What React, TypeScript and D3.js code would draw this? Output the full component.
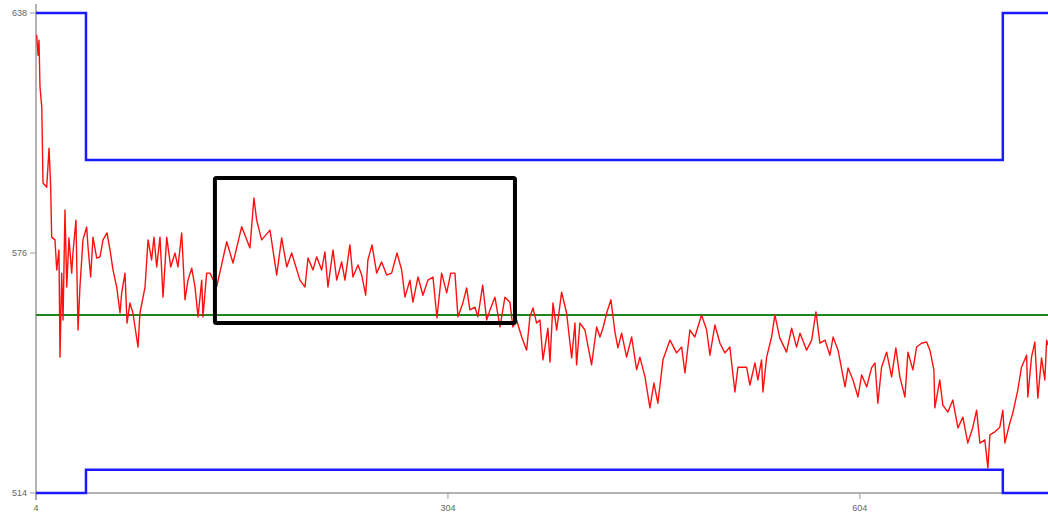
import React, { useEffect, useRef } from "react";
import * as d3 from "d3";

// sample positions (x) and measured values (red trace)
const sampleX = [
  4.5, 5.5, 6.2, 6.9, 8.2, 9.1, 11.8, 13.5, 14.7, 15.4, 17.8, 19.1, 20.7, 21.5, 22.7, 23.7, 25.1, 26.4, 28.0, 30.0,
  30.9, 33.1, 34.6, 36.0, 38.2, 40.9, 41.9, 43.8, 45.5, 48.2, 50.6, 52.8, 55.7, 57.9, 60.1, 62.8, 65.2, 66.4, 68.8, 70.3,
  72.4, 74.6, 78.3, 79.7, 83.4, 85.6, 88.2, 89.9, 91.9, 94.3, 96.5, 99.2, 102.1, 105.2, 107.4, 110.1, 112.5, 114.7, 117.4, 119.8,
  122.0, 124.7, 125.6, 128.3, 130.7, 135.6, 142.9, 147.5, 153.8, 159.8, 162.7, 164.7, 168.3, 174.4, 179.3, 182.9, 186.6, 190.2, 196.2, 199.9,
  202.1, 205.7, 208.4, 212.0, 214.4, 216.6, 220.3, 223.0, 226.6, 229.0, 232.6, 234.8, 238.5, 241.2, 244.1, 245.7, 248.7, 252.1, 255.7, 259.4,
  263.0, 266.9, 270.3, 272.7, 276.3, 278.5, 282.2, 285.8, 289.4, 293.1, 296.0, 299.4, 303.1, 306.0, 309.1, 311.3, 314.9, 317.6, 320.0, 323.7,
  325.8, 329.3, 332.2, 334.6, 338.2, 341.9, 345.5, 349.1, 351.3, 354.0, 357.7, 361.3, 363.7, 365.9, 368.6, 371.0, 373.2, 376.8, 378.3, 380.5,
  383.2, 386.8, 390.4, 394.1, 396.5, 397.7, 400.1, 403.8, 408.6, 412.3, 414.7, 416.9, 419.6, 422.7, 425.6, 427.8, 430.5, 434.1, 437.8, 441.4,
  443.8, 447.5, 451.1, 454.0, 456.9, 460.6, 465.7, 470.5, 474.2, 476.6, 480.2, 483.8, 488.7, 492.4, 494.8, 498.4, 502.1, 505.7, 509.3, 513.0,
  515.2, 521.5, 523.9, 527.6, 529.7, 532.4, 533.4, 536.1, 539.7, 542.1, 545.7, 550.6, 554.3, 557.9, 560.4, 565.2, 568.9, 572.0, 574.9, 578.6,
  582.2, 584.5, 588.1, 593.2, 595.4, 599.0, 602.6, 605.3, 609.0, 612.5, 615.0, 617.1, 619.8, 623.5, 627.1, 630.2, 633.1, 636.8, 639.0, 642.6,
  645.3, 648.9, 652.6, 655.0, 657.9, 658.6, 662.2, 664.4, 668.1, 671.7, 675.4, 679.0, 682.6, 686.3, 689.0, 691.4, 695.0, 697.2, 698.7, 702.3,
  705.9, 708.1, 709.6, 713.2, 715.4, 719.0, 721.7, 725.4, 726.3, 729.0, 731.4, 733.6, 736.3, 738.7, 740.0, 740.9,
];
const sampleValue = [
  632.3, 627.1, 631.0, 618.9, 613.7, 594.1, 593.0, 603.1, 593.0, 580.1, 579.4, 571.6, 576.8, 549.1, 570.8, 558.7, 587.1, 567.2, 579.9, 570.8,
  576.0, 584.5, 556.1, 567.2, 579.4, 582.7, 577.5, 569.8, 580.1, 574.7, 575.0, 579.4, 581.2, 576.8, 571.6, 567.2, 560.5, 565.7, 570.8, 557.9,
  563.1, 560.5, 551.7, 560.5, 567.2, 579.4, 574.2, 580.1, 572.4, 580.1, 564.6, 580.1, 572.4, 576.0, 572.4, 581.2, 563.9, 569.0, 572.1, 567.2,
  559.5, 569.0, 559.5, 570.8, 570.8, 567.3, 578.9, 573.4, 582.8, 577.3, 590.2, 584.5, 579.4, 581.9, 570.3, 579.9, 572.4, 576.0, 569.0, 567.2,
  574.7, 571.6, 575.0, 571.6, 576.3, 567.2, 576.8, 569.0, 573.7, 569.0, 578.1, 569.8, 572.9, 570.3, 565.1, 574.2, 578.1, 570.8, 573.7, 570.3,
  570.8, 576.0, 571.6, 564.6, 569.0, 563.3, 569.8, 565.1, 569.0, 569.8, 559.2, 570.8, 565.7, 570.8, 570.8, 559.5, 563.1, 567.0, 561.3, 562.0,
  559.5, 567.7, 558.7, 561.3, 564.6, 556.9, 564.6, 563.3, 556.9, 558.7, 554.3, 550.9, 559.5, 561.8, 557.9, 558.7, 548.4, 556.6, 547.8, 563.1,
  556.1, 565.9, 560.5, 548.9, 557.9, 547.1, 557.9, 556.1, 547.1, 556.9, 554.3, 556.6, 560.5, 563.9, 555.6, 551.5, 555.3, 549.1, 554.3, 545.8,
  549.1, 544.0, 536.0, 542.4, 537.2, 548.4, 553.5, 550.2, 551.7, 545.0, 556.1, 554.3, 560.0, 556.1, 549.6, 557.4, 552.7, 550.2, 551.7, 540.1,
  546.5, 546.5, 541.9, 547.6, 543.2, 548.4, 540.1, 549.1, 554.3, 560.0, 554.0, 550.4, 556.6, 551.7, 555.3, 550.9, 553.5, 560.8, 552.7, 553.5,
  549.6, 554.3, 550.9, 541.4, 546.3, 543.2, 538.8, 544.5, 541.4, 546.3, 547.6, 537.2, 546.5, 550.4, 544.0, 551.5, 544.0, 538.8, 550.4, 545.8,
  551.7, 552.7, 553.0, 550.9, 545.8, 536.0, 543.2, 536.7, 534.9, 538.0, 530.8, 533.6, 526.9, 531.0, 535.4, 526.9, 527.7, 520.5, 529.0, 529.8,
  531.0, 535.4, 526.9, 532.1, 534.7, 540.6, 546.5, 549.6, 538.8, 549.1, 553.0, 538.5, 548.9, 543.2, 553.5, 552.2,
];

// upper / lower limit steps (blue)
const limitX = [4, 40.4, 708.1, 741];
const upperLimit = [638, 600, 638, 638];
const lowerLimit = [514, 520, 514, 514];

const targetValue = 560;

// highlighted window [x0, x1, yTop, yBottom]
const highlightX = [134.3, 352.8];
const highlightY = [595.4, 557.9];

const xTicks = [4, 304, 604];
const yTicks = [514, 576, 638];

const W = 1048;
const H = 514;

const App = () => {
  const svgRef = useRef<SVGSVGElement | null>(null);

  useEffect(() => {
    const svg = d3.select(svgRef.current);
    svg.selectAll("*").remove();

    const x = d3.scaleLinear().domain([4, 741]).range([36, 1048]);
    const y = d3.scaleLinear().domain([514, 638]).range([493, 13]);

    // axes
    svg
      .append("line")
      .attr("x1", 36)
      .attr("x2", 36)
      .attr("y1", 4)
      .attr("y2", 500)
      .attr("stroke", "#9a9a9a")
      .attr("stroke-width", 1.5);
    svg
      .append("line")
      .attr("x1", 36)
      .attr("x2", W)
      .attr("y1", y(514))
      .attr("y2", y(514))
      .attr("stroke", "#9a9a9a")
      .attr("stroke-width", 1.5);

    yTicks.forEach((t) => {
      svg
        .append("line")
        .attr("x1", 30)
        .attr("x2", 36)
        .attr("y1", y(t))
        .attr("y2", y(t))
        .attr("stroke", "#9a9a9a");
      svg
        .append("text")
        .attr("x", 27)
        .attr("y", y(t))
        .attr("dy", "0.35em")
        .attr("text-anchor", "end")
        .attr("font-family", "Arial, Liberation Sans, sans-serif")
        .attr("font-size", 9)
        .attr("fill", "#666")
        .text(t);
    });

    xTicks.forEach((t) => {
      svg
        .append("line")
        .attr("x1", x(t))
        .attr("x2", x(t))
        .attr("y1", y(514))
        .attr("y2", y(514) + 6)
        .attr("stroke", "#9a9a9a");
      svg
        .append("text")
        .attr("x", x(t))
        .attr("y", 511)
        .attr("text-anchor", "middle")
        .attr("font-family", "Arial, Liberation Sans, sans-serif")
        .attr("font-size", 9)
        .attr("fill", "#666")
        .text(t);
    });

    // target line
    svg
      .append("line")
      .attr("x1", 36)
      .attr("x2", W)
      .attr("y1", y(targetValue))
      .attr("y2", y(targetValue))
      .attr("stroke", "#1d861d")
      .attr("stroke-width", 2);

    // red trace
    const trace = d3
      .line<number>()
      .x((_, i) => x(sampleX[i]))
      .y((d) => y(d));
    svg
      .append("path")
      .attr("d", trace(sampleValue))
      .attr("fill", "none")
      .attr("stroke", "#ff1010")
      .attr("stroke-width", 1.4)
      .attr("stroke-linejoin", "round");

    // limits
    const step = d3
      .line<number>()
      .x((_, i) => x(limitX[i]))
      .y((d) => y(d))
      .curve(d3.curveStepAfter);
    [upperLimit, lowerLimit].forEach((lim) => {
      svg
        .append("path")
        .attr("d", step(lim))
        .attr("fill", "none")
        .attr("stroke", "#1a1aff")
        .attr("stroke-width", 2.5);
    });

    // highlight box
    svg
      .append("rect")
      .attr("x", x(highlightX[0]))
      .attr("y", y(highlightY[0]))
      .attr("width", x(highlightX[1]) - x(highlightX[0]))
      .attr("height", y(highlightY[1]) - y(highlightY[0]))
      .attr("rx", 1.5)
      .attr("fill", "none")
      .attr("stroke", "#000")
      .attr("stroke-width", 4);
  }, []);

  return (
    <svg
      ref={svgRef}
      width={W}
      height={H}
      style={{ position: "absolute", left: 0, top: 0, background: "#fff" }}
    />
  );
};

export default App;
